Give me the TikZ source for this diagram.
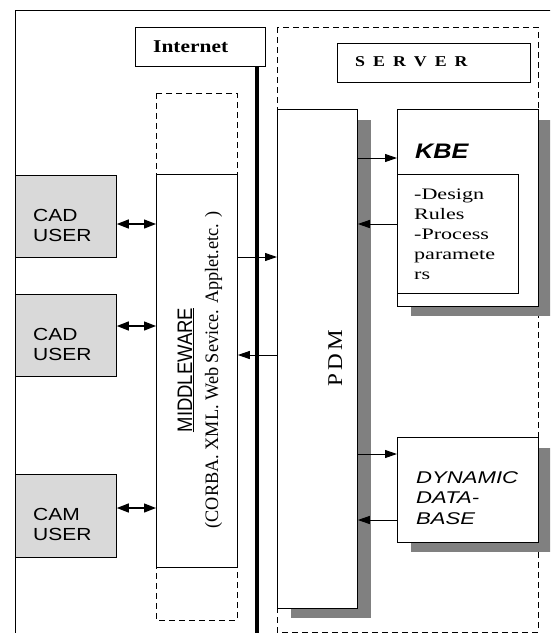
\documentclass[tikz,border=0pt]{standalone}
\usepackage{fontspec}
\usetikzlibrary{arrows.meta}
\setmainfont{Liberation Serif}
\newfontfamily\usersans[FakeStretch=1.2]{Liberation Sans}
\newfontfamily\kbesans[FakeStretch=1.2]{Liberation Sans}
\newfontfamily\dbsans[FakeStretch=1.3]{Liberation Sans}
\newfontfamily\mwsans[FakeStretch=0.88]{Liberation Sans}
\newfontfamily\rulesserif[FakeStretch=1.38]{Liberation Serif}
\newfontfamily\netserif[FakeStretch=1.19]{Liberation Serif}
\newfontfamily\corbaserif[FakeStretch=0.96]{Liberation Serif}
\newfontfamily\pdmserif[FakeStretch=1.1]{Liberation Serif}
\definecolor{usergray}{RGB}{217,217,217}
\definecolor{shadowgray}{RGB}{128,128,128}
\begin{document}
\begin{tikzpicture}[x=1pt,y=-1pt,
  box/.style={draw=black,line width=0.8pt,fill=white,rectangle,inner sep=0,anchor=north west},
  userbox/.style={box,fill=usergray},
  shade/.style={fill=shadowgray,draw=none},
  dashbox/.style={draw=black,line width=0.8pt,dash pattern=on 6pt off 4pt},
  txt/.style={inner sep=0,anchor=base west},
  rtxt/.style={inner sep=0,anchor=base,rotate=90},
  arr/.style={line width=1pt,-{Triangle[length=12pt,width=8pt]}},
  darr/.style={line width=1.3pt,{Triangle[length=12pt,width=9pt]}-{Triangle[length=12pt,width=9pt]}}]
\useasboundingbox (0,0) rectangle (550,633);
\clip (0,0) rectangle (550,633);
\fill[white] (0,0) rectangle (550,633);

% outer frame
\draw[line width=0.8pt] (15,10) rectangle (600,700);

% Internet label and backbone
\node[box,minimum width=130pt,minimum height=39pt] (inet) at (135,27) {};
\node[txt,font=\netserif\bfseries\fontsize{18}{20}\selectfont] (inettxt) at (153,52) {Internet};
\coordinate (busT) at (257,66);
\coordinate (busB) at (257,640);
\draw[line width=4pt] (busT) -- (busB);

% middleware
\draw[dashbox] (156,93) rectangle (237,620);
\node[box,minimum width=81pt,minimum height=393pt] (mw) at (156,174) {};
\node[rtxt,font=\mwsans\fontsize{21}{24}\selectfont] (mwname) at (192,370) {\underline{MIDDLEWARE}};
\node[rtxt,font=\corbaserif\fontsize{19}{22}\selectfont] (mwlist) at (218,370) {(CORBA. XML. Web Sevice. Applet.etc. )};

% users
\node[userbox,minimum width=101pt,minimum height=82pt] (cad1) at (15,175) {};
\node[userbox,minimum width=101pt,minimum height=82pt] (cad2) at (15,294) {};
\node[userbox,minimum width=101pt,minimum height=83pt] (cam) at (15,474) {};
\begin{scope}[every node/.style={txt,font=\usersans\fontsize{17.5}{20}\selectfont}]
  \node (cad1a) at (33,221) {CAD};
  \node (cad1b) at (33,241) {USER};
  \node (cad2a) at (33,340) {CAD};
  \node (cad2b) at (33,360) {USER};
  \node (cama) at (33,520) {CAM};
  \node (camb) at (33,540) {USER};
\end{scope}

% server
\draw[dashbox] (277,27) rectangle (538,632);
\node[box,minimum width=193pt,minimum height=39pt] (srv) at (337,43) {};
\node[txt,font=\netserif\bfseries\fontsize{15}{18}\selectfont] (srvtxt) at (355,66)
  {S\hspace{8pt}E\hspace{8pt}R\hspace{8pt}V\hspace{8pt}E\hspace{8pt}R};

% shadows
\fill[shade] (291,120) rectangle (371,618);
\fill[shade] (411,120) rectangle (552,316);
\fill[shade] (411,448) rectangle (552,552);

% PDM
\node[box,minimum width=80pt,minimum height=499pt] (pdm) at (277,109) {};
\node[rtxt,font=\pdmserif\fontsize{21}{24}\selectfont] (pdmtxt) at (342,358) {P\hspace{3pt}D\hspace{3pt}M};

% KBE
\node[box,minimum width=141pt,minimum height=197pt] (kbe) at (397,109) {};
\node[txt,font=\kbesans\bfseries\itshape\fontsize{21}{24}\selectfont] (kbetxt) at (415,158) {KBE};
\node[box,minimum width=121pt,minimum height=119pt] (rules) at (397,174) {};
\begin{scope}[every node/.style={txt,font=\rulesserif\fontsize{16}{20}\selectfont}]
  \node (r1) at (414,199) {-Design};
  \node (r2) at (414,219) {Rules};
  \node (r3) at (414,239) {-Process};
  \node (r4) at (414,259) {paramete};
  \node (r5) at (414,279) {rs};
\end{scope}

% dynamic database
\node[box,minimum width=141pt,minimum height=105pt] (db) at (397,437) {};
\begin{scope}[every node/.style={txt,font=\dbsans\itshape\fontsize{17}{20}\selectfont}]
  \node (d1) at (416,483) {DYNAMIC};
  \node (d2) at (416,503.5) {DATA-};
  \node (d3) at (416,524) {BASE};
\end{scope}

% connector levels
\coordinate (y1) at (0,224);
\coordinate (y2) at (0,326);
\coordinate (y3) at (0,508);
\coordinate (y4) at (0,257);
\coordinate (y5) at (0,355);
\coordinate (y6) at (0,158);
\coordinate (y7) at (0,224);
\coordinate (y8) at (0,454);
\coordinate (y9) at (0,520);

\draw[darr] (cad1.east |- y1) -- (mw.west |- y1);
\draw[darr] (cad2.east |- y2) -- (mw.west |- y2);
\draw[darr] (cam.east |- y3) -- (mw.west |- y3);
\draw[arr] (mw.east |- y4) -- (pdm.west |- y4);
\draw[arr] (pdm.west |- y5) -- (mw.east |- y5);
\draw[arr] (pdm.east |- y6) -- (kbe.west |- y6);
\draw[arr] (kbe.west |- y7) -- (pdm.east |- y7);
\draw[arr] (pdm.east |- y8) -- (db.west |- y8);
\draw[arr] (db.west |- y9) -- (pdm.east |- y9);
\end{tikzpicture}
\end{document}
